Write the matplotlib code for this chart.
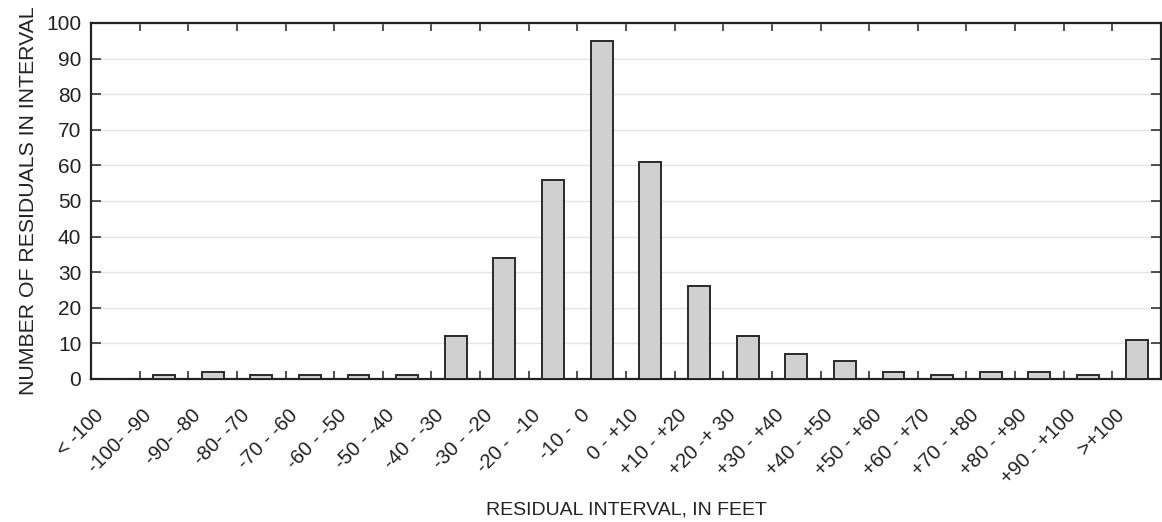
import matplotlib
matplotlib.use("Agg")
import matplotlib.pyplot as plt
import matplotlib.transforms as mtransforms
import numpy as np

categories = ["< -100", "-100- -90", "-90- -80", "-80- -70", "-70 - -60", "-60 - -50",
              "-50 - -40", "-40 - -30", "-30 - -20", "-20 -  -10", "-10 -  0", "0 - +10",
              "+10 - +20", "+20 -+ 30", "+30 - +40", "+40 - +50", "+50 - +60", "+60 - +70",
              "+70 - +80", "+80 - +90", "+90 - +100", ">+100"]
counts = [0, 1, 2, 1, 1, 1, 1, 12, 34, 56, 95, 61, 26, 12, 7, 5, 2, 1, 2, 2, 1, 11]
yticks = [0, 10, 20, 30, 40, 50, 60, 70, 80, 90, 100]

plt.rcParams['font.family'] = ['Liberation Sans', 'DejaVu Sans']

fig = plt.figure(figsize=(11.62, 5.22), dpi=100)
ax = fig.add_axes([91/1162, 1-379/522, 1070/1162, (379-23)/522])

x = np.arange(len(categories))
ax.bar(x, counts, width=0.45, color='#d0d0d0', edgecolor='#2a2a2a', linewidth=1.4, zorder=3)

ax.set_xlim(-0.5, len(categories) - 0.5)
ax.set_ylim(0, 100)
ax.set_yticks(yticks)
ax.grid(axis='y', color='#e3e3e3', linewidth=1.0, zorder=0)

# major ticks at bin boundaries (no labels), minor ticks at centers with labels
ax.set_xticks(x[:-1] + 0.5)
ax.set_xticklabels([])
ax.set_xticks(x, minor=True)
ax.set_xticklabels(categories, minor=True, rotation=45, ha='right', va='center',
                   rotation_mode='anchor', fontsize=14.5, color='#222222')
ax.tick_params(axis='x', which='minor', length=0, pad=24)
ax.tick_params(axis='x', which='major', direction='in', top=True, bottom=True,
               length=6, width=1.2, color='#333333')
ax.tick_params(axis='y', direction='in', left=True, right=True, length=7, width=1.2,
               color='#333333', labelsize=15, labelcolor='#222222', pad=7)

offset = mtransforms.ScaledTranslation(-15/100, 0, fig.dpi_scale_trans)
for lbl in ax.get_xticklabels(minor=True):
    lbl.set_transform(lbl.get_transform() + offset)

for s in ax.spines.values():
    s.set_color('#222222')
    s.set_linewidth(1.6)

ax.set_ylabel("NUMBER OF RESIDUALS IN INTERVAL", fontsize=15.3, color='#222222', labelpad=6)
ax.set_xlabel("RESIDUAL INTERVAL, IN FEET", fontsize=14, color='#222222', labelpad=10)

fig.savefig("out.png", dpi=100)
